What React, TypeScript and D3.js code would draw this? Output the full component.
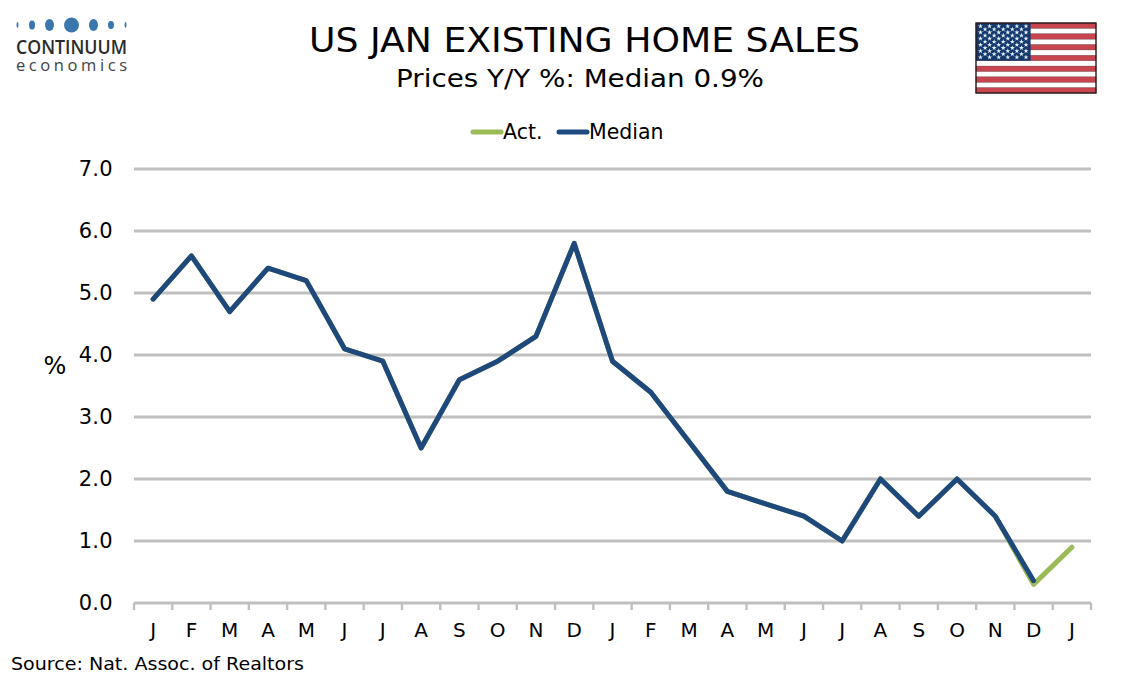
import { useEffect, useRef } from "react";
import * as d3 from "d3";

const MONTHS = ["J", "F", "M", "A", "M", "J", "J", "A", "S", "O", "N", "D", "J", "F", "M", "A", "M", "J", "J", "A", "S", "O", "N", "D", "J"];
const ACT = [4.9, 5.6, 4.7, 5.4, 5.2, 4.1, 3.9, 2.5, 3.6, 3.9, 4.3, 5.8, 3.9, 3.4, 2.6, 1.8, 1.6, 1.4, 1.0, 2.0, 1.4, 2.0, 1.4, 0.3, 0.9];
const MEDIAN = [4.9, 5.6, 4.7, 5.4, 5.2, 4.1, 3.9, 2.5, 3.6, 3.9, 4.3, 5.8, 3.9, 3.4, 2.6, 1.8, 1.6, 1.4, 1.0, 2.0, 1.4, 2.0, 1.4, 0.36];
const Y_TICKS = [0, 1, 2, 3, 4, 5, 6, 7];
const LOGO_DOTS = [
  { x: 17.5, rx: 1, ry: 3 },
  { x: 32, rx: 3, ry: 4.5 },
  { x: 49.5, rx: 4.5, ry: 6 },
  { x: 71.5, rx: 7.5, ry: 7.5 },
  { x: 93.5, rx: 4.5, ry: 6 },
  { x: 111, rx: 3, ry: 4 },
  { x: 125.5, rx: 1, ry: 3 },
];

const FONT = "'DejaVu Sans', Verdana, sans-serif";
const GREEN = "#9BBB59";
const BLUE = "#1F497D";
const GRID = "#BFBFBF";

export default function App() {
  const svgRef = useRef<SVGSVGElement>(null);

  useEffect(() => {
    if (!svgRef.current) return;
    const svg = d3.select(svgRef.current);
    svg.selectAll("*").remove();

    const left = 134;
    const right = 1091;
    const x = d3.scaleBand<number>().domain(d3.range(MONTHS.length)).range([left, right]);
    const y = d3.scaleLinear().domain([0, 7]).range([603, 169]);
    const cx = (i: number) => (x(i) ?? 0) + x.bandwidth() / 2;

    // gridlines
    svg.append("g").selectAll("line")
      .data(Y_TICKS)
      .enter()
      .append("line")
      .attr("x1", left).attr("x2", right)
      .attr("y1", (d) => y(d)).attr("y2", (d) => y(d))
      .attr("stroke", GRID).attr("stroke-width", 3);

    // x axis ticks
    svg.append("g").selectAll("line")
      .data(d3.range(MONTHS.length + 1))
      .enter()
      .append("line")
      .attr("x1", (d) => left + d * x.bandwidth()).attr("x2", (d) => left + d * x.bandwidth())
      .attr("y1", y(0)).attr("y2", y(0) + 7)
      .attr("stroke", GRID).attr("stroke-width", 2.4);

    svg.append("g").selectAll("text")
      .data(Y_TICKS)
      .enter()
      .append("text")
      .attr("x", 113).attr("y", (d) => y(d) + 7)
      .attr("text-anchor", "end")
      .attr("font-size", 21)
      .attr("letter-spacing", 0.3)
      .attr("fill", "#000")
      .text((d) => d.toFixed(1));

    svg.append("g").selectAll("text")
      .data(MONTHS)
      .enter()
      .append("text")
      .attr("x", (_, i) => cx(i)).attr("y", 637)
      .attr("text-anchor", "middle")
      .attr("font-size", 20)
      .text((d) => d);

    svg.append("text").attr("x", 55).attr("y", 374)
      .attr("text-anchor", "middle").attr("font-size", 24).text("%");

    const line = d3.line<number>().x((_, i) => cx(i)).y((d) => y(d));
    svg.append("path").attr("d", line(ACT))
      .attr("fill", "none").attr("stroke", GREEN).attr("stroke-width", 5)
      .attr("stroke-linecap", "round").attr("stroke-linejoin", "round");
    svg.append("path").attr("d", line(MEDIAN))
      .attr("fill", "none").attr("stroke", BLUE).attr("stroke-width", 5)
      .attr("stroke-linecap", "round").attr("stroke-linejoin", "round");

    // titles
    svg.append("text").attr("x", 309).attr("y", 52)
      .attr("font-size", 33.5).attr("textLength", 551).attr("lengthAdjust", "spacingAndGlyphs")
      .text("US JAN EXISTING HOME SALES");
    svg.append("text").attr("x", 396).attr("y", 87)
      .attr("font-size", 24.3).attr("textLength", 368).attr("lengthAdjust", "spacingAndGlyphs")
      .text("Prices Y/Y %: Median 0.9%");

    // legend
    const legend = [
      { label: "Act.", color: GREEN, x1: 473, x2: 501, tx: 503 },
      { label: "Median", color: BLUE, x1: 559, x2: 587, tx: 589 },
    ];
    legend.forEach((l) => {
      svg.append("line").attr("x1", l.x1).attr("x2", l.x2).attr("y1", 132).attr("y2", 132)
        .attr("stroke", l.color).attr("stroke-width", 5).attr("stroke-linecap", "round");
      svg.append("text").attr("x", l.tx).attr("y", 139).attr("font-size", 20.5).text(l.label);
    });

    svg.append("text").attr("x", 11).attr("y", 670)
      .attr("font-size", 18.5).attr("textLength", 293).attr("lengthAdjust", "spacingAndGlyphs")
      .text("Source: Nat. Assoc. of Realtors");

    // logo
    const logo = svg.append("g");
    logo.selectAll("ellipse")
      .data(LOGO_DOTS)
      .enter()
      .append("ellipse")
      .attr("cx", (d) => d.x).attr("cy", 25)
      .attr("rx", (d) => d.rx).attr("ry", (d) => d.ry)
      .attr("fill", "#3A77AE");
    logo.append("text").attr("x", 16).attr("y", 54)
      .attr("font-family", "'Open Sans', sans-serif").attr("font-weight", 600)
      .attr("font-size", 20).attr("fill", "#2b2b2b")
      .attr("textLength", 111).attr("lengthAdjust", "spacingAndGlyphs").text("CONTINUUM");
    logo.append("text").attr("x", 16).attr("y", 71)
      .attr("font-family", "'Open Sans', sans-serif")
      .attr("font-size", 16.5).attr("fill", "#444")
      .attr("textLength", 111).attr("lengthAdjust", "spacing").text("economics");

    // flag
    const flagX = d3.scaleLinear().domain([0, 1]).range([976, 1096]);
    const flagY = d3.scaleLinear().domain([0, 13]).range([23, 93]);
    const flag = svg.append("g");
    flag.append("rect").attr("x", flagX(0)).attr("y", flagY(0))
      .attr("width", flagX(1) - flagX(0)).attr("height", flagY(13) - flagY(0)).attr("fill", "#fff");
    flag.selectAll(".stripe")
      .data(d3.range(0, 13, 2))
      .enter()
      .append("rect")
      .attr("class", "stripe")
      .attr("x", flagX(0)).attr("y", (d) => flagY(d))
      .attr("width", flagX(1) - flagX(0)).attr("height", flagY(1) - flagY(0))
      .attr("fill", "#C8444F")
      .attr("stroke", "#5a3a3a").attr("stroke-width", 0.4);
    flag.append("rect").attr("x", flagX(0)).attr("y", flagY(0))
      .attr("width", flagX(0.455) - flagX(0)).attr("height", flagY(7) - flagY(0))
      .attr("fill", "#12386E");
    const star = d3.symbol(d3.symbolStar, 8)() ?? "";
    const stars: [number, number][] = [];
    d3.range(11).forEach((r) => {
      const count = r % 2 === 0 ? 6 : 5;
      d3.range(count).forEach((c) => stars.push([r, c]));
    });
    flag.selectAll(".star")
      .data(stars)
      .enter()
      .append("path")
      .attr("class", "star")
      .attr("d", star)
      .attr("fill", "#E8F0F6")
      .attr("transform", ([r, c]) =>
        `translate(${flagX(0) + 4.5 + c * 9.1 + (r % 2 === 0 ? 0 : 4.55)},${flagY(0) + 3.2 + r * 3.1})`);
    flag.append("rect").attr("x", flagX(0)).attr("y", flagY(0))
      .attr("width", flagX(1) - flagX(0)).attr("height", flagY(13) - flagY(0))
      .attr("fill", "none").attr("stroke", "#2a1a1a").attr("stroke-width", 1.4);
  }, []);

  return (
    <svg
      ref={svgRef}
      width={1134}
      height={680}
      fontFamily={FONT}
      style={{ position: "absolute", left: 0, top: 0, background: "#fff" }}
    />
  );
}
